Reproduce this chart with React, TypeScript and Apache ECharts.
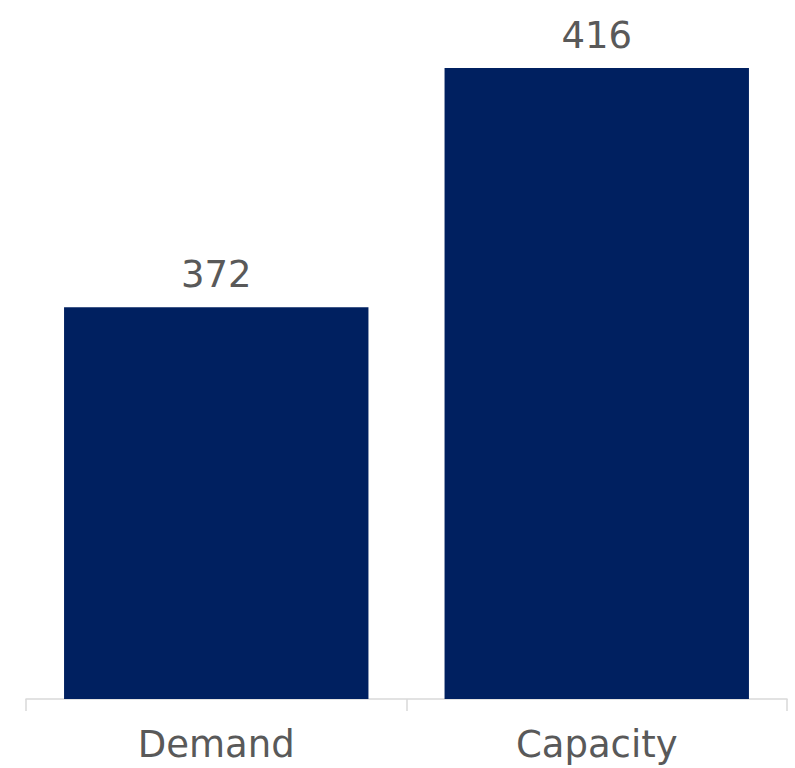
import React, { useEffect, useRef } from "react";
import * as echarts from "echarts";

const categories = ["Demand", "Capacity"];
const values = [372, 416];
const axisMin = 300;
const axisMax = 416;

export default function App() {
  const ref = useRef<HTMLDivElement>(null);
  useEffect(() => {
    document.body.style.margin = "0";
    if (!ref.current) return;
    const chart = echarts.init(ref.current, null, { renderer: "svg" });
    const font = "'DejaVu Sans', sans-serif";
    chart.setOption({
      animation: false,
      backgroundColor: "#ffffff",
      grid: { left: 26, right: 8, top: 68, bottom: 69, containLabel: false },
      xAxis: {
        type: "category",
        data: categories,
        axisLine: { show: true, lineStyle: { color: "#D9D9D9", width: 1.5 } },
        axisTick: { show: true, length: 12, lineStyle: { color: "#D9D9D9", width: 1.5 } },
        axisLabel: {
          color: "#595959",
          fontSize: 37,
          fontFamily: font,
          margin: 27,
        },
      },
      yAxis: {
        type: "value",
        min: axisMin,
        max: axisMax,
        show: false,
        splitLine: { show: false },
      },
      series: [
        {
          type: "bar",
          data: values,
          barCategoryGap: "20%",
          itemStyle: { color: "#002060" },
          label: {
            show: true,
            position: "top",
            distance: 14,
            color: "#595959",
            fontSize: 37,
            fontFamily: font,
          },
        },
      ],
    });
    return () => chart.dispose();
  }, []);
  return <div ref={ref} style={{ width: 795, height: 768 }} />;
}
